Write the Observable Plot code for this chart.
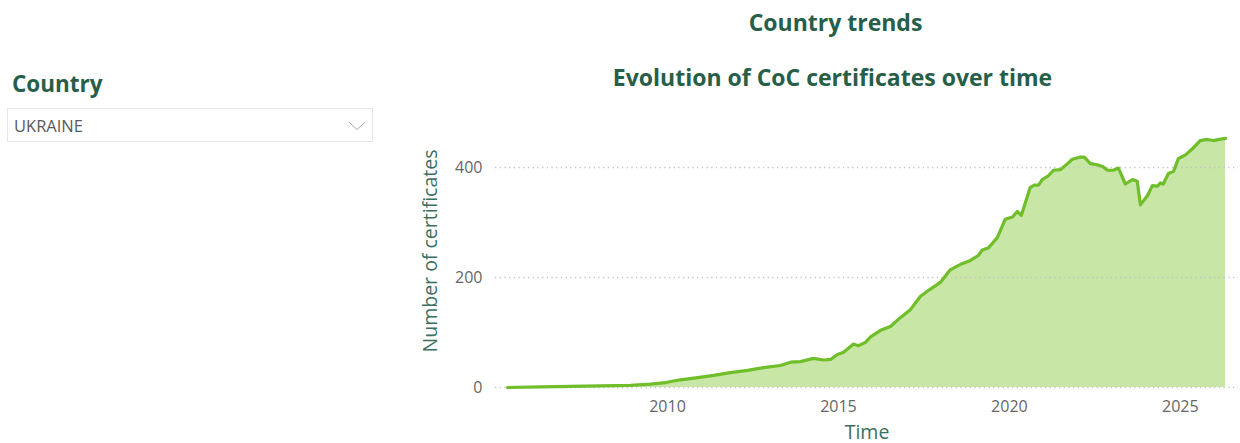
<!DOCTYPE html>
<html>
<head>
<meta charset="utf-8">
<script src="https://cdn.jsdelivr.net/npm/d3@7"></script>
<script src="https://cdn.jsdelivr.net/npm/@observablehq/plot@0.6"></script>
<style>
  html, body { margin: 0; padding: 0; background: #fff; width: 1240px; height: 443px; overflow: hidden; }
  body { position: relative; font-family: "Open Sans", "Noto Sans", sans-serif; }
  .abs { position: absolute; white-space: nowrap; }
  .head { color: #275e48; font-weight: 700; line-height: 1; }
  #country { left: 12px; top: 73px; font-size: 22.5px; }
  #trends { left: 400px; width: 871px; text-align: center; top: 11px; font-size: 23px; }
  #evo { left: 400px; width: 865px; text-align: center; top: 66px; font-size: 23px; }
  #dd { left: 7px; top: 108px; width: 366px; height: 34px; border: 1px solid #e6e6e6; box-sizing: border-box; }
  #ddtext { left: 6px; top: 0; line-height: 34px; font-size: 16.5px; color: #5a5a5a; }
  #chev { right: 4px; top: 11px; }
  #chart { left: 400px; top: 130px; }
</style>
</head>
<body>
<div class="abs head" id="country">Country</div>
<div class="abs" id="dd">
  <div class="abs" id="ddtext">UKRAINE</div>
  <svg class="abs" id="chev" width="22" height="12"><polyline points="3,2 11,9.5 19,2" fill="none" stroke="#a8a8a8" stroke-width="1"/></svg>
</div>
<div class="abs head" id="trends">Country trends</div>
<div class="abs head" id="evo">Evolution of CoC certificates over time</div>
<div class="abs" id="chart"></div>
<script>
// Time (decimal year) and number of certificates
const years = [
  2005.32, 2006.29, 2007.16, 2008.04, 2008.92, 2009.50, 2009.94, 2010.38, 2010.88, 2011.35,
  2011.84, 2012.34, 2012.81, 2013.30, 2013.60, 2013.89, 2014.27, 2014.56, 2014.77, 2014.97,
  2015.15, 2015.44, 2015.58, 2015.79, 2015.94, 2016.23, 2016.52, 2016.81, 2017.11, 2017.40,
  2017.69, 2017.98, 2018.27, 2018.57, 2018.86, 2019.09, 2019.21, 2019.39, 2019.65, 2019.88,
  2020.09, 2020.23, 2020.35, 2020.61, 2020.73, 2020.85, 2020.96, 2021.14, 2021.29, 2021.49,
  2021.70, 2021.84, 2022.08, 2022.19, 2022.37, 2022.57, 2022.72, 2022.87, 2023.04, 2023.19,
  2023.39, 2023.60, 2023.74, 2023.83, 2024.04, 2024.18, 2024.33, 2024.42, 2024.50, 2024.65,
  2024.80, 2024.94, 2025.15, 2025.35, 2025.58, 2025.79, 2025.96, 2026.14, 2026.32
];
const certificates = [
  0, 1, 2, 3, 4, 6, 9, 14, 18, 22,
  27, 31, 36, 40, 46, 47, 53, 50, 51, 60,
  64, 79, 76, 82, 92, 104, 111, 127, 142, 166,
  179, 191, 214, 224, 231, 240, 250, 254, 273, 306,
  310, 320, 313, 364, 368, 368, 378, 385, 395, 396,
  407, 415, 419, 419, 407, 405, 402, 395, 395, 399,
  370, 378, 375, 332, 349, 367, 366, 372, 370, 389,
  393, 416, 423, 434, 449, 451, 449, 451, 453
];
const xTicks = [2010, 2015, 2020, 2025];
const yTicks = [0, 200, 400];
const yTitle = "Number of certificates";
const xTitle = "Time";

const data = years.map((t, i) => ({t, v: certificates[i]}));

const fontFam = "'Open Sans', 'Noto Sans', sans-serif";
const chart = Plot.plot({
  width: 840,
  height: 313,
  marginLeft: 95,
  marginRight: 2,
  marginTop: 4,
  marginBottom: 56,
  style: {fontFamily: fontFam, fontSize: "16px", background: "transparent", overflow: "visible"},
  x: {domain: [2004.97, 2026.70]},
  y: {domain: [0, 460]},
  marks: [
    Plot.areaY(data, {x: "t", y: "v", fill: "#c8e6a6"}),
    Plot.ruleY(yTicks, {stroke: "#c4c4c4", strokeWidth: 1.3, strokeDasharray: "1.3,3.4"}),
    Plot.lineY(data, {x: "t", y: "v", stroke: "#6fbe2a", strokeWidth: 3.2, strokeLinejoin: "round", strokeLinecap: "round"}),
    Plot.axisX({ticks: xTicks, tickFormat: d => String(d), tickSize: 0, tickPadding: 13, color: "#666", label: null}),
    Plot.axisY({ticks: yTicks, tickSize: 0, tickPadding: 13, color: "#666", label: null}),
    Plot.text([xTitle], {text: d => d, frameAnchor: "bottom", dy: 45, fill: "#3b7060", fontSize: 19.5, lineAnchor: "middle", textAnchor: "middle"}),
    Plot.text([yTitle], {text: d => d, frameAnchor: "left", rotate: -90, dx: -65, dy: -10, fill: "#3b7060", fontSize: 19.5, lineAnchor: "middle", textAnchor: "middle"})
  ]
});
document.getElementById("chart").appendChild(chart);
</script>
</body>
</html>
